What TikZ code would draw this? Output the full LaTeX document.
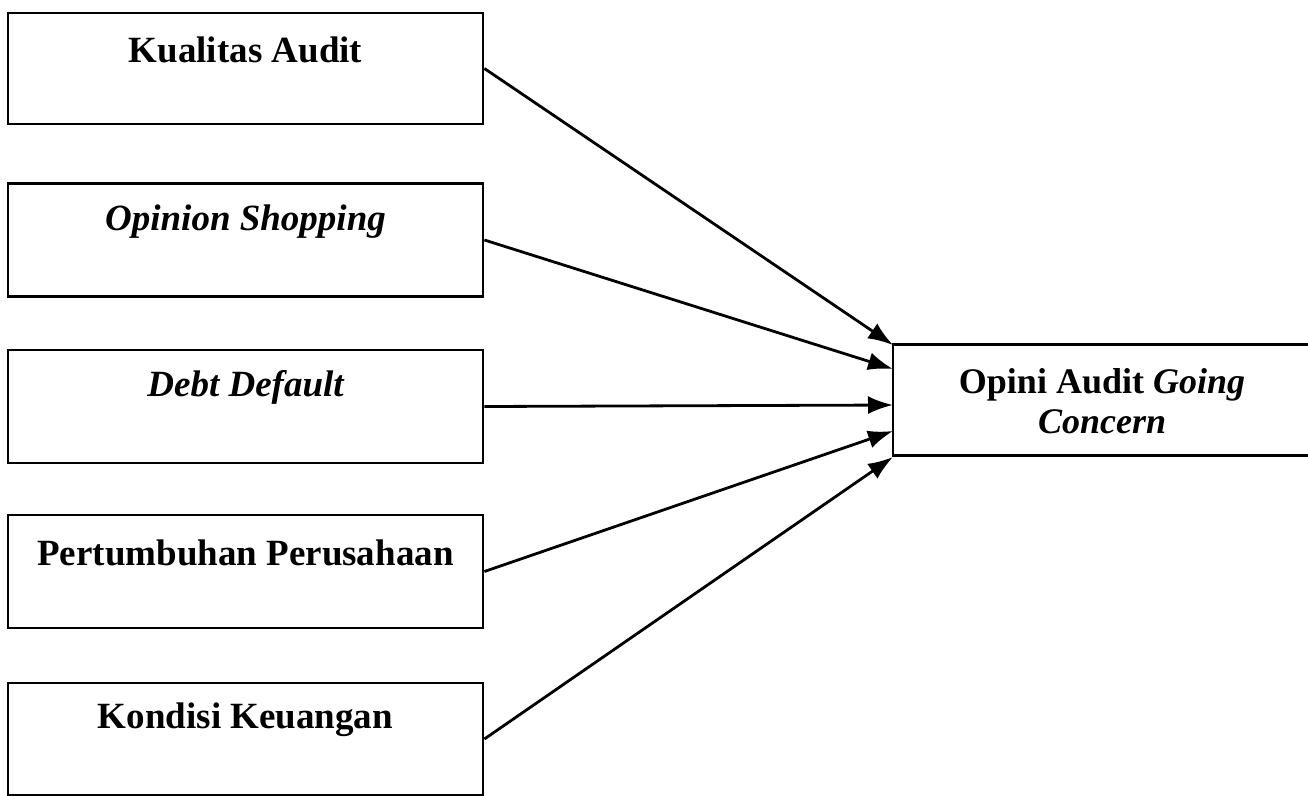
\documentclass[tikz,border=0pt]{standalone}
\usepackage{fontspec}
\setmainfont{Liberation Serif}
\usetikzlibrary{arrows.meta}
\begin{document}
\begin{tikzpicture}[x=1pt,y=-1pt,
  box/.style={draw=black, line width=2.8pt, rectangle, inner sep=0pt, minimum width=#1},
  lbl/.style={font=\fontsize{37}{40}\selectfont\bfseries, inner sep=0pt, align=center},
  arr/.style={line width=2.8pt, -{Latex[length=25pt,width=18pt]}}]
\useasboundingbox (0,0) rectangle (1308,795);
\fill[white] (0,0) rectangle (1308,795);
% left boxes
\node[box=475pt, minimum height=111pt] (b1) at (245.5,68.5) {};
\node[box=475pt, minimum height=113pt] (b2) at (245.5,240) {};
\node[box=475pt, minimum height=113pt] (b3) at (245.5,406.5) {};
\node[box=475pt, minimum height=113pt] (b4) at (245.5,571.5) {};
\node[box=475pt, minimum height=112pt] (b5) at (245.5,739) {};
\node[lbl] (t1) at (245.5,50) {Kualitas Audit};
\node[lbl] (t2) at (245.5,222) {\itshape Opinion Shopping};
\node[lbl] (t3) at (245.5,387) {\itshape Debt Default};
\node[lbl] (t4) at (245.5,553) {Pertumbuhan Perusahaan};
\node[lbl] (t5) at (245.5,720) {Kondisi Keuangan};
% right box
\node[box=430pt, minimum height=111pt] (r) at (1108,400) {};
\node[lbl, font=\fontsize{36}{40}\selectfont\bfseries] (tr) at (1102,401) {Opini Audit \textit{Going}\\\textit{Concern}};
% arrow ends
\coordinate (e1) at (893,345);
\coordinate (e2) at (893,369);
\coordinate (e3) at (893,405);
\coordinate (e4) at (893,431);
\coordinate (e5) at (893,457);
\draw[arr] (b1.east) -- (e1);
\draw[arr] (b2.east) -- (e2);
\draw[arr] (b3.east) -- (e3);
\draw[arr] (b4.east) -- (e4);
\draw[arr] (b5.east) -- (e5);
\end{tikzpicture}
\end{document}
